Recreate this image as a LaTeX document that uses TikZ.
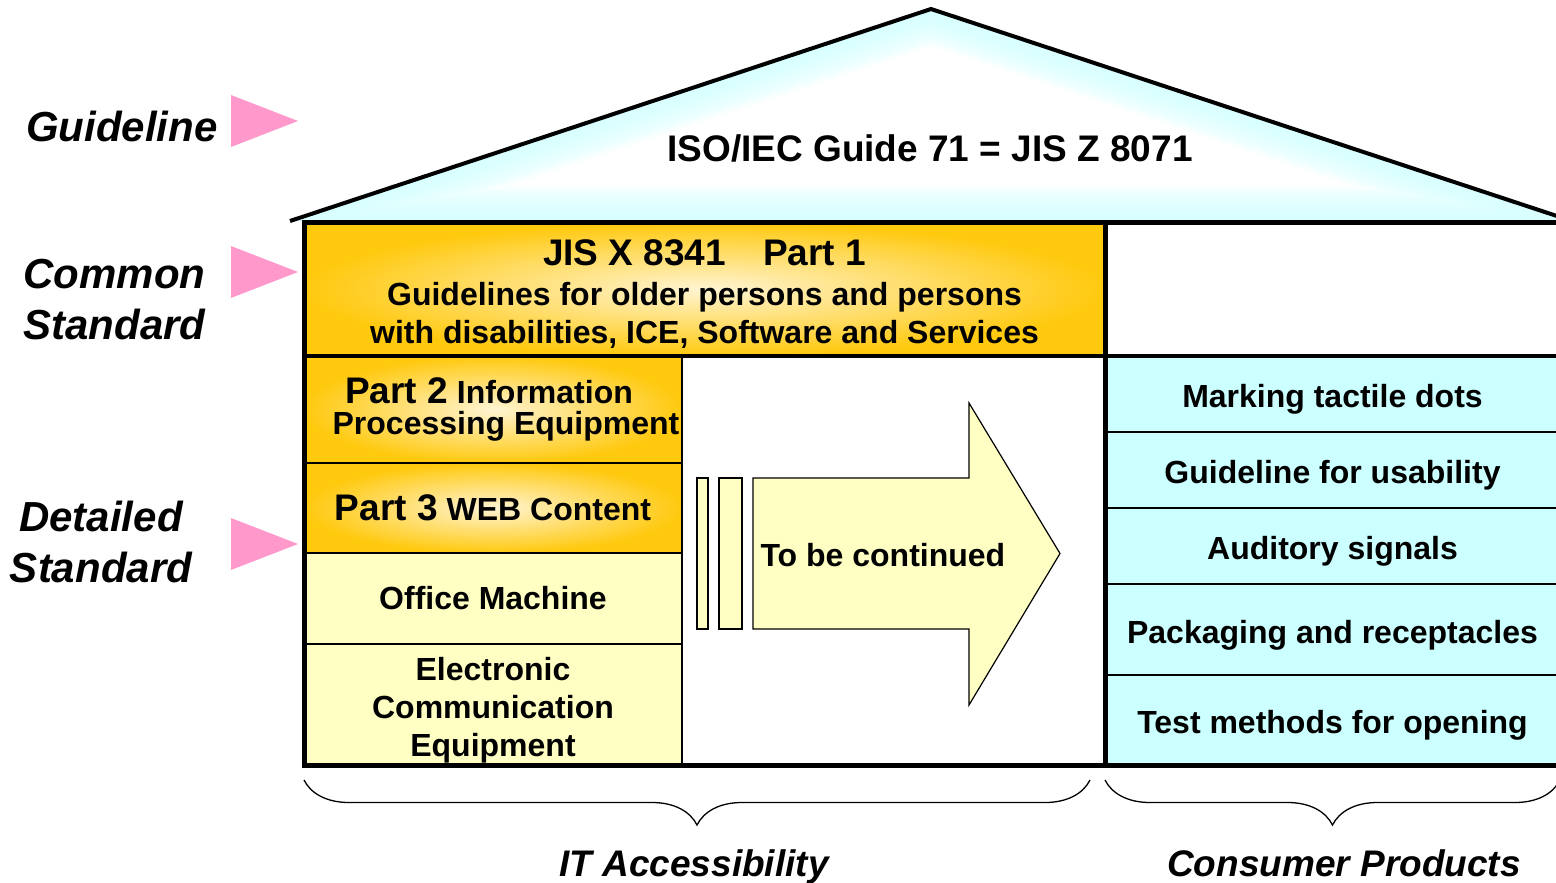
\documentclass[tikz,border=0pt]{standalone}
\usepackage{fontspec}
\setmainfont{Liberation Sans}
\usetikzlibrary{decorations.pathreplacing,positioning}

\definecolor{gold}{HTML}{FFC90E}
\definecolor{paleorange}{HTML}{FFF4D2}
\definecolor{paleyellow}{HTML}{FFFFC4}
\definecolor{skycyan}{HTML}{CCFFFF}
\definecolor{flagpink}{HTML}{FF99CC}

\tikzset{
  cell/.style={draw, line width=1.5pt, inner sep=0pt, align=center,
    font=\fontsize{32}{38}\selectfont\bfseries},
  partcell/.style={cell, inner color=paleorange, outer color=gold},
  plaincell/.style={cell, fill=paleyellow},
  cyancell/.style={cell, fill=skycyan, minimum width=455pt, text height=27pt, text depth=0pt},
  bar/.style={draw, line width=1.2pt, fill=paleyellow, inner sep=0pt, minimum height=151pt},
  levellabel/.style={font=\fontsize{42}{51}\selectfont\bfseries\itshape},
  grouplabel/.style={font=\fontsize{37}{44}\selectfont\bfseries\itshape, anchor=base},
  span/.style={decorate, decoration={brace, mirror, amplitude=45pt}, line width=1.3pt}
}

\begin{document}
\begin{tikzpicture}[x=1pt, y=-1pt]
    \useasboundingbox (0,0) rectangle (1556,883);
    \clip (0,0) rectangle (1556,883);

    % roof, cyan glow along its edges
    \begin{scope}
      \clip (290,221) -- (931,9) -- (1572,221) -- cycle;
      \foreach \w in {70,62,...,6}
        \draw[skycyan, line width=\w pt, opacity=0.16] (290,221) -- (931,9) -- (1572,221) -- cycle;
    \end{scope}
    \draw[line width=4pt, line join=miter] (290,221) -- (931,9) -- (1572,221);
    \node[font=\fontsize{37}{44}\selectfont\bfseries] (iso) at (930,148) {ISO/IEC Guide 71 = JIS Z 8071};

    % IT accessibility side
    \node[partcell, minimum width=801pt, minimum height=134pt] (jis) at (704.5,289)
      {{\fontsize{37}{42}\selectfont\rule{0pt}{36pt}JIS X 8341\quad Part 1}\\[2pt]
       Guidelines for older persons and persons\\
       with disabilities, ICE, Software and Services};
    \node[partcell, minimum width=378pt, minimum height=107pt] (part2) at (493,409.5)
      {{\fontsize{37}{42}\selectfont Part 2} Information\hspace*{8pt}\\[-7pt]\hspace*{26pt}Processing Equipment};
    \node[partcell, minimum width=378pt, minimum height=90pt] (part3) at (493,508)
      {{\fontsize{37}{42}\selectfont Part 3} WEB Content};
    \node[plaincell, minimum width=378pt, minimum height=91pt] (office) at (493,598.5) {Office Machine};
    \node[plaincell, minimum width=378pt, minimum height=121pt] (elec) at (493,704.5)
      {\rule{0pt}{34pt}Electronic\\Communication\\Equipment};

    % consumer products side
    \node[cyancell, minimum height=76pt] (dots) at (1332.5,394) {Marking tactile dots};
    \node[cyancell, minimum height=76pt] (usab) at (1332.5,470) {Guideline for usability};
    \node[cyancell, minimum height=76pt] (audio) at (1332.5,546) {Auditory signals};
    \node[cyancell, minimum height=91pt] (pack) at (1332.5,629.5) {Packaging and receptacles};
    \node[cyancell, minimum height=90pt] (opening) at (1332.5,720) {Test methods for opening};

    % to be continued
    \node[bar, minimum width=11pt] (bar1) at (702.5,553.5) {};
    \node[bar, minimum width=23pt] (bar2) at (730.5,553.5) {};
    \draw[line width=1.2pt, fill=paleyellow] (753,478) -- (969,478) -- (969,403) -- (1060,553.5)
      -- (969,705) -- (969,629) -- (753,629) -- cycle;
    \node[anchor=west, font=\fontsize{32}{38}\selectfont\bfseries] (cont) at (757,555) {To be continued};

    % walls
    \draw[line width=5pt] (304,222) rectangle (1560,765);
    \draw[line width=5pt] (1105,222) -- (1105,765);
    \draw[line width=4pt] (304,356) -- (1560,356);
    \draw[line width=1.5pt] (682,356) -- (682,765);

    % levels
    \fill[flagpink] (231,95) -- (298,121) -- (231,147) -- cycle;
    \fill[flagpink] (231,246) -- (298,272) -- (231,298) -- cycle;
    \fill[flagpink] (231,518) -- (298,544) -- (231,570) -- cycle;
    \node[levellabel, anchor=east] (guide) at (221,126) {Guideline};
    \node[levellabel, anchor=west, align=left] (common) at (20,300) {Common\\Standard};
    \node[levellabel, align=center] (detail) at (101,542) {Detailed\\Standard};

    % groups
    \coordinate (itL) at (304,780);
    \coordinate (itR) at (1090,780);
    \coordinate (cpL) at (1105,780);
    \coordinate (cpR) at (1560,780);
    \draw[span] (itL) -- (itR);
    \draw[span] (cpL) -- (cpR);
    \node[grouplabel] (itacc) at (694,876) {IT Accessibility};
    \node[grouplabel] (consumer) at (1344,876) {Consumer Products};
\end{tikzpicture}
\end{document}
